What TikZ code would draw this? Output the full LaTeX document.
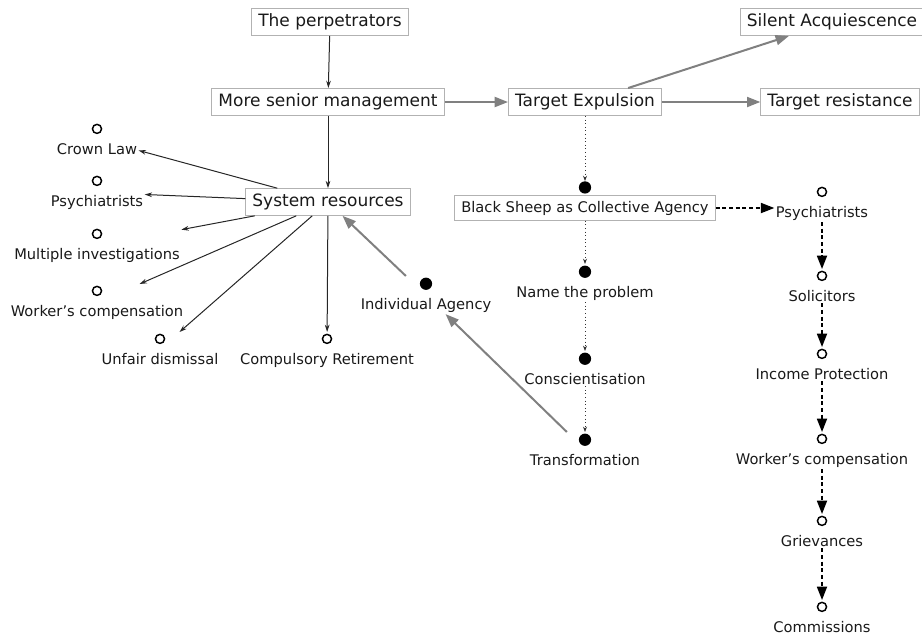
\documentclass[tikz,border=0pt]{standalone}
\usepackage{fontspec}
\setmainfont{DejaVu Sans}
\usetikzlibrary{positioning,arrows.meta}

\newcommand{\hollowdot}{\tikz\draw[black, line width=1.1pt] (0,0) circle (3.4pt);}
\newcommand{\blackdot}{\tikz\fill[black] (0,0) circle (4.6pt);}

\begin{document}
\begin{tikzpicture}[x=0.75pt,y=-0.75pt,
    box/.style={draw=gray!60, line width=0.6pt, inner xsep=5pt, inner ysep=4pt,
      text=black!90, font=\fontsize{12.75}{15}\selectfont},
    smallbox/.style={box, font=\fontsize{11}{13.2}\selectfont},
    item/.style={align=center, inner sep=1pt, anchor=north, text=black!90,
      font=\fontsize{11}{13.2}\selectfont},
    dot/.style={circle, fill=black, inner sep=0pt, minimum size=9.2pt},
    plain/.style={-{Stealth[length=5.5pt,width=3.5pt]}, line width=0.75pt, black!85},
    grey/.style={-{Triangle[length=10pt,width=7.5pt]}, gray, line width=1.5pt},
    dots/.style={-{Stealth[length=4pt,width=3pt]}, dotted, line width=0.7pt, black!80},
    dashes/.style={-{Triangle[length=10pt,width=7.5pt]}, dash pattern=on 3pt off 2pt,
      line width=1.3pt}]
    \useasboundingbox (0,0) rectangle (922,637);
    % Boxes
    \node[box] (perp) at (330,22) {The perpetrators};
    \node[box] (senior) at (328,102) {More senior management};
    \node[box] (system) at (328,202) {System resources};
    \node[box] (expul) at (585,102) {Target Expulsion};
    \node[box] (silent) at (832,22) {Silent Acquiescence};
    \node[box] (resist) at (840,102) {Target resistance};
    \node[smallbox] (sheep) at (585,208) {Black Sheep as Collective Agency};
    \node[dot, above=1pt of sheep] (sheepdot) {};
    % System resources
    \node[item] (crown) at (97,122) {\hollowdot\\[2pt]Crown Law};
    \node[item] (psyl) at (97,174) {\hollowdot\\[2pt]Psychiatrists};
    \node[item] (multi) at (97,227) {\hollowdot\\[2pt]Multiple investigations};
    \node[item] (workl) at (97,284) {\hollowdot\\[2pt]Worker's compensation};
    \node[item] (unfair) at (160,332) {\hollowdot\\[2pt]Unfair dismissal};
    \node[item] (compul) at (327,332) {\hollowdot\\[2pt]Compulsory Retirement};
    % Agency
    \node[item] (indiv) at (426,276) {\blackdot\\[1.5pt]Individual Agency};
    \node[item] (name) at (585,264) {\blackdot\\[1.5pt]Name the problem};
    \node[item] (consc) at (585,351) {\blackdot\\[1.5pt]Conscientisation};
    \node[item] (transf) at (585,432) {\blackdot\\[1.5pt]Transformation};
    % Right column
    \node[item] (psyr) at (822,185) {\hollowdot\\[2pt]Psychiatrists};
    \node[item] (solic) at (822,269) {\hollowdot\\[2pt]Solicitors};
    \node[item] (income) at (822,347) {\hollowdot\\[2pt]Income Protection};
    \node[item] (workr) at (822,432) {\hollowdot\\[2pt]Worker's compensation};
    \node[item] (griev) at (822,514) {\hollowdot\\[2pt]Grievances};
    \node[item] (commis) at (822,600) {\hollowdot\\[2pt]Commissions};
    % Edges
    \draw[plain] (perp) -- (senior);
    \draw[plain] (senior) -- (system);
    \draw[plain] (system) -- (crown);
    \draw[plain] (system) -- (psyl);
    \draw[plain] (system) -- (multi);
    \draw[plain] (system) -- (workl);
    \draw[plain] (system) -- (unfair);
    \draw[plain] (system) -- (compul);
    \draw[grey] (senior) -- (expul);
    \draw[grey] (expul) -- (silent);
    \draw[grey] (expul) -- (resist);
    \draw[grey] (indiv) -- (system);
    \draw[grey] (transf) -- (indiv);
    \draw[dots] (expul) -- (sheepdot);
    \draw[dots] (sheep) -- (name);
    \draw[dots] (name) -- (consc);
    \draw[dots] (consc) -- (transf);
    \draw[dashes] (sheep.east) -- (sheep.east -| psyr.west);
    \draw[dashes] (psyr) -- (solic);
    \draw[dashes] (solic) -- (income);
    \draw[dashes] (income) -- (workr);
    \draw[dashes] (workr) -- (griev);
    \draw[dashes] (griev) -- (commis);
\end{tikzpicture}
\end{document}
